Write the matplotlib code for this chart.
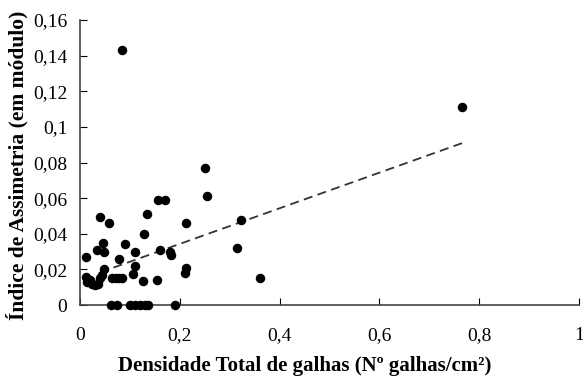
import numpy as np
import matplotlib.pyplot as plt

# densidade total de galhas (x) e indice de assimetria (y)
dens = [0.085, 0.765, 0.25, 0.255, 0.156, 0.17, 0.135, 0.040, 0.059, 0.213, 0.323,
        0.129, 0.047, 0.090, 0.035, 0.048, 0.160, 0.315, 0.180, 0.182, 0.111,
        0.013, 0.079, 0.049, 0.111, 0.213, 0.210, 0.106, 0.126, 0.155, 0.360,
        0.012, 0.015, 0.020, 0.025, 0.030, 0.036, 0.040, 0.044,
        0.065, 0.072, 0.078, 0.085,
        0.063, 0.075, 0.100, 0.110, 0.120, 0.130, 0.137, 0.190]
assim = [0.143, 0.111, 0.077, 0.061, 0.059, 0.059, 0.051, 0.0495, 0.046, 0.046, 0.048,
         0.040, 0.035, 0.034, 0.031, 0.030, 0.031, 0.032, 0.030, 0.028, 0.0296,
         0.027, 0.026, 0.020, 0.022, 0.0205, 0.0178, 0.0174, 0.0135, 0.014, 0.015,
         0.016, 0.013, 0.014, 0.012, 0.011, 0.012, 0.015, 0.017,
         0.015, 0.015, 0.015, 0.015,
         0, 0, 0, 0, 0, 0, 0, 0]

# linha de tendencia
trend_x = [0.067, 0.767]
trend_y = [0.021, 0.091]

xticks = [0, 0.2, 0.4, 0.6, 0.8, 1]
xlabels = ["0", "0,2", "0,4", "0,6", "0,8", "1"]
yticks = [0, 0.02, 0.04, 0.06, 0.08, 0.1, 0.12, 0.14, 0.16]
ylabels = ["0", "0,02", "0,04", "0,06", "0,08", "0,1", "0,12", "0,14", "0,16"]

plt.rcParams["font.family"] = ["Liberation Serif", "DejaVu Serif"]

fig = plt.figure(figsize=(5.83, 3.80), dpi=100)
ax = fig.add_axes([80 / 583, 75 / 380, 499 / 583, 285 / 380])

ax.scatter(dens, assim, s=34, color="black", zorder=3, clip_on=False)
ax.plot(trend_x, trend_y, linestyle=(0, (5, 3)), color="#333333", linewidth=1.3)

ax.set_xlim(0, 1)
ax.set_ylim(0, 0.16)
ax.set_xticks(xticks)
ax.set_xticklabels(xlabels)
ax.set_yticks(yticks)
ax.set_yticklabels(ylabels)
ax.tick_params(direction="in", length=5, labelsize=14, colors="black")
ax.tick_params(axis="x", pad=16)
ax.tick_params(axis="y", pad=9)

for s in ["top", "right"]:
    ax.spines[s].set_visible(False)
for s in ["left", "bottom"]:
    ax.spines[s].set_color("#444444")
    ax.spines[s].set_linewidth(1.2)

ax.set_xlabel("Densidade Total de galhas (Nº galhas/cm²)", fontsize=15, fontweight="bold")
ax.xaxis.set_label_coords(0.45, -0.18)
ax.set_ylabel("Índice de Assimetria (em módulo)", fontsize=15.5, fontweight="bold")
ax.yaxis.set_label_coords(-0.104, 0.49)

fig.savefig("out.png", dpi=100)
